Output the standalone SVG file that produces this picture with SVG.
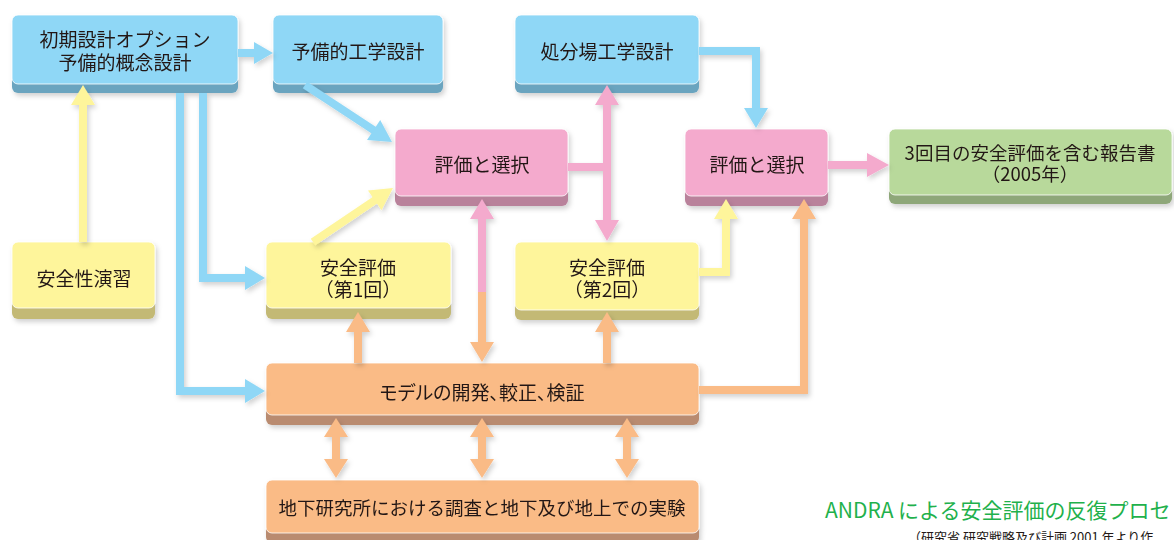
<svg xmlns="http://www.w3.org/2000/svg" width="1174" height="540" viewBox="0 0 1174 540">
<defs>
<filter id="sh" x="-10%" y="-10%" width="130%" height="140%">
<feDropShadow dx="2" dy="3" stdDeviation="2.5" flood-color="#000" flood-opacity="0.18"/>
</filter>
<style>
text{font-family:"Noto Sans CJK JP","Noto Sans",sans-serif;font-size:19px;fill:#231815;text-anchor:middle;dominant-baseline:central}
.face{stroke:#fff;stroke-width:1;stroke-opacity:0.8}
.bf{fill:#8fd7f6}.bd{fill:#6aa4bf}
.pf{fill:#f4aacd}.pd{fill:#b9829b}
.yf{fill:#fef59b}.yd{fill:#c3b975}
.gf{fill:#b8d99b}.gd{fill:#8ea779}
.of{fill:#fabb86}.od{fill:#b98b6f}
.ln{fill:none;stroke-width:8;stroke-linejoin:miter}
.cb{stroke:#8fd7f6}.cp{stroke:#f4aacd}.cy{stroke:#fef59b}.co{stroke:#fabb86}
.hb{fill:#8fd7f6}.hp{fill:#f4aacd}.hy{fill:#fef59b}.ho{fill:#fabb86}
.palt{font-feature-settings:"palt"}
.title{font-size:21px;fill:#1fb14c;text-anchor:start;dominant-baseline:auto}
.sub{font-size:13px;fill:#231815;text-anchor:start;dominant-baseline:auto}
</style>
</defs>
<rect width="1174" height="540" fill="#fff"/>

<g id="nodes" filter="url(#sh)">
<g id="n-initial">
<rect x="12" y="25" width="226" height="68" rx="6" class="bd"/>
<rect x="12" y="15" width="226" height="69" rx="6" class="bf face"/>
<text x="125" y="38">初期設計オプション<tspan x="125" dy="23">予備的概念設計</tspan></text>
</g>
<g id="n-prelim">
<rect x="273" y="25" width="170" height="68" rx="6" class="bd"/>
<rect x="273" y="15" width="170" height="69" rx="6" class="bf face"/>
<text x="358" y="50">予備的工学設計</text>
</g>
<g id="n-disposal">
<rect x="515" y="25" width="184" height="68" rx="6" class="bd"/>
<rect x="515" y="15" width="184" height="69" rx="6" class="bf face"/>
<text x="607" y="50">処分場工学設計</text>
</g>
<g id="n-eval1">
<rect x="395" y="139" width="173" height="67" rx="6" class="pd"/>
<rect x="395" y="129" width="173" height="67" rx="6" class="pf face"/>
<text x="482" y="163">評価と選択</text>
</g>
<g id="n-eval2">
<rect x="685" y="139" width="143" height="67" rx="6" class="pd"/>
<rect x="685" y="129" width="143" height="67" rx="6" class="pf face"/>
<text x="757" y="163">評価と選択</text>
</g>
<g id="n-report">
<rect x="889" y="139" width="283" height="65" rx="6" class="gd"/>
<rect x="889" y="129" width="283" height="66" rx="6" class="gf face"/>
<text x="1030" y="152" style="font-size:18.5px">3回目の安全評価を含む報告書<tspan x="1030" dy="21">（2005年）</tspan></text>
</g>
<g id="n-exercise">
<rect x="12" y="252" width="143" height="67" rx="6" class="yd"/>
<rect x="12" y="242" width="143" height="66" rx="6" class="yf face"/>
<text x="84" y="277">安全性演習</text>
</g>
<g id="n-sa1">
<rect x="266" y="252" width="185" height="67" rx="6" class="yd"/>
<rect x="266" y="242" width="185" height="66" rx="6" class="yf face"/>
<text x="358" y="266">安全評価<tspan x="358" dy="22">（第1回）</tspan></text>
</g>
<g id="n-sa2">
<rect x="515" y="252" width="184" height="68" rx="6" class="yd"/>
<rect x="515" y="242" width="184" height="68" rx="6" class="yf face"/>
<text x="607" y="266">安全評価<tspan x="607" dy="22">（第2回）</tspan></text>
</g>
<g id="n-model">
<rect x="266" y="373" width="433" height="52" rx="6" class="od"/>
<rect x="266" y="363" width="433" height="52" rx="6" class="of face"/>
<text x="482" y="391" class="palt">モデルの開発、較正、検証</text>
</g>
<g id="n-url">
<rect x="266" y="490" width="433" height="53" rx="6" class="od"/>
<rect x="266" y="480" width="433" height="53" rx="6" class="of face"/>
<text x="482" y="507" style="font-size:18.5px">地下研究所における調査と地下及び地上での実験</text>
</g>
</g>

<g id="connectors" filter="url(#sh)">
<path class="ln cb" d="M238,53 H255"/>
<polygon class="hb" points="254,42 273,53 254,64"/>
<path class="ln cb" d="M305,85 L375,131"/>
<polygon class="hb" points="367,140 392,142 380.2,119.9"/>
<path class="ln cb" d="M699,51 H756 V109"/>
<polygon class="hb" points="744,108 768,108 756,128"/>
<path class="ln cp" d="M568,167 H607"/>
<path class="ln cp" d="M607,104 V221"/>
<polygon class="hp" points="595,105 619,105 607,85"/>
<polygon class="hp" points="595,220 619,220 607,241"/>
<path class="ln cp" d="M828,165 H868"/>
<polygon class="hp" points="867,153 889,165 867,177"/>
<path class="ln cy" d="M83,242 V104"/>
<polygon class="hy" points="71,105 95,105 83,85"/>
<path class="ln cb" d="M203,93 V278 H246"/>
<polygon class="hb" points="245,266 245,290 265,278"/>
<path class="ln cb" d="M180,93 V391 H246"/>
<polygon class="hb" points="245,379 245,403 265,391"/>
<path class="ln cy" d="M313,242 L376,199.5"/>
<polygon class="hy" points="381.5,210.3 393,188 368,190.4"/>
<path class="ln co" d="M358,363 V331"/>
<polygon class="ho" points="346,332 370,332 358,312"/>
<path class="ln co" d="M607,363 V331"/>
<polygon class="ho" points="595,332 619,332 607,312"/>
<path class="ln cp" d="M482,218 V293"/>
<path class="ln co" d="M482,292 V343"/>
<polygon class="hp" points="470,219 494,219 482,199"/>
<polygon class="ho" points="470,342 494,342 482,362"/>
<path class="ln cy" d="M699,272 H726 V218"/>
<polygon class="hy" points="714,219 738,219 726,199"/>
<path class="ln co" d="M699,390 H804 V218"/>
<polygon class="ho" points="792,219 816,219 804,199"/>
<path class="ln co" d="M336,436 V460"/>
<polygon class="ho" points="324,437 348,437 336,418"/>
<polygon class="ho" points="324,459 348,459 336,478"/>
<path class="ln co" d="M482,436 V460"/>
<polygon class="ho" points="470,437 494,437 482,418"/>
<polygon class="ho" points="470,459 494,459 482,478"/>
<path class="ln co" d="M627,436 V460"/>
<polygon class="ho" points="615,437 639,437 627,418"/>
<polygon class="ho" points="615,459 639,459 627,478"/>
</g>

<g id="caption">
<text class="title" x="825" y="518">ANDRA による安全評価の反復プロセ</text>
<text class="sub" x="908" y="542">（研究省 研究戦略及び計画 2001 年より作</text>
</g>
</svg>
